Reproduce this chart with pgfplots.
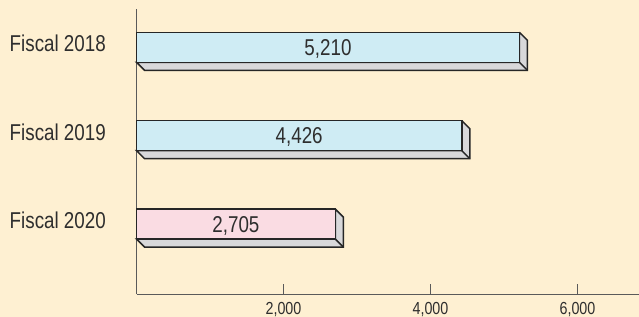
\documentclass[border=0pt]{standalone}
\usepackage{fontspec}
\setmainfont{Liberation Sans}[FakeStretch=0.82]
\usepackage{pgfplots}
\pgfplotsset{compat=1.18}
\usepackage{pgfplotstable}
\definecolor{bg}{HTML}{FEF0D2}
\definecolor{barblue}{HTML}{CFECF4}
\definecolor{barpink}{HTML}{FADCE3}
\definecolor{shade}{HTML}{D8D8DA}
\definecolor{outline}{HTML}{262626}
\definecolor{axisgray}{HTML}{5A5A5A}
\definecolor{txt}{HTML}{2E2E2E}
\pgfplotstableread{
val pos label
5210 2 5,210
4426 1 4,426
2705 0 2,705
}\data
\begin{document}
\begin{tikzpicture}
\fill[bg] (0,0) rectangle (639bp,317bp);
\path[use as bounding box] (0,0) rectangle (639bp,317bp);
\begin{axis}[
  at={(136.5bp,23bp)}, anchor=south west,
  scale only axis, width=502.5bp, height=285bp,
  xmin=0, xmax=6837, ymin=-0.792, ymax=2.433,
  axis x line*=bottom, axis y line*=left,
  axis line style={-, draw=axisgray, line width=0.8bp},
  ytick={0,1,2}, yticklabels={Fiscal 2020,Fiscal 2019,Fiscal 2018},
  ytick style={draw=none}, major tick length=10bp,
  yticklabel style={anchor=base east, inner sep=0pt, xshift=-30.5bp, yshift=-4.7bp, font=\fontsize{23}{24}\selectfont, text=txt},
  xtick={2000,4000,6000}, tick align=inside,
  xtick style={draw=axisgray, line width=0.8bp},
  xticklabel style={anchor=base, inner sep=0pt, yshift=-20bp, font=\fontsize{17.5}{18}\selectfont, text=txt},
  /pgf/number format/assume math mode=true,
  /pgf/number format/1000 sep={,},
  clip=false,
]
% extrusions (shadow bands)
\addplot[fill=shade, draw=outline, line width=1.5bp, line join=miter] coordinates {
  (5210,2.1697) (5318.8,2.0792) (5318.8,1.7398) (108.8,1.7398) (0,1.8303) (5210,1.8303) (5210,2.1697)};
\addplot[draw=outline, line width=1.5bp] coordinates {(5210,1.8303) (5318.8,1.7398)};
\addplot[fill=shade, draw=outline, line width=1.5bp, line join=miter] coordinates {
  (4426,1.1697) (4534.8,1.0792) (4534.8,0.7398) (108.8,0.7398) (0,0.8303) (4426,0.8303) (4426,1.1697)};
\addplot[draw=outline, line width=1.5bp] coordinates {(4426,0.8303) (4534.8,0.7398)};
\addplot[fill=shade, draw=outline, line width=1.5bp, line join=miter] coordinates {
  (2705,0.1697) (2813.8,0.0792) (2813.8,-0.2602) (108.8,-0.2602) (0,-0.1697) (2705,-0.1697) (2705,0.1697)};
\addplot[draw=outline, line width=1.5bp] coordinates {(2705,-0.1697) (2813.8,-0.2602)};
% front faces
\addplot[xbar, bar shift=0pt, bar width=30bp, fill=barblue, draw=outline, line width=1.5bp] coordinates {(5210,2)};
\addplot[xbar, bar shift=0pt, bar width=30bp, fill=barblue, draw=outline, line width=1.5bp] coordinates {(4426,1)};
\addplot[xbar, bar shift=0pt, bar width=30bp, fill=barpink, draw=outline, line width=1.5bp] coordinates {(2705,0)};
% value labels centred in the bars
\addplot[draw=none, mark=none, nodes near coords, point meta=explicit symbolic,
  x filter/.expression={x/2},
  every node near coord/.append style={anchor=base, yshift=-8.2bp, inner sep=0pt, font=\fontsize{23}{24}\selectfont, text=txt}]
  table[x=val, y=pos, meta=label] {\data};
\end{axis}
\end{tikzpicture}
\end{document}
